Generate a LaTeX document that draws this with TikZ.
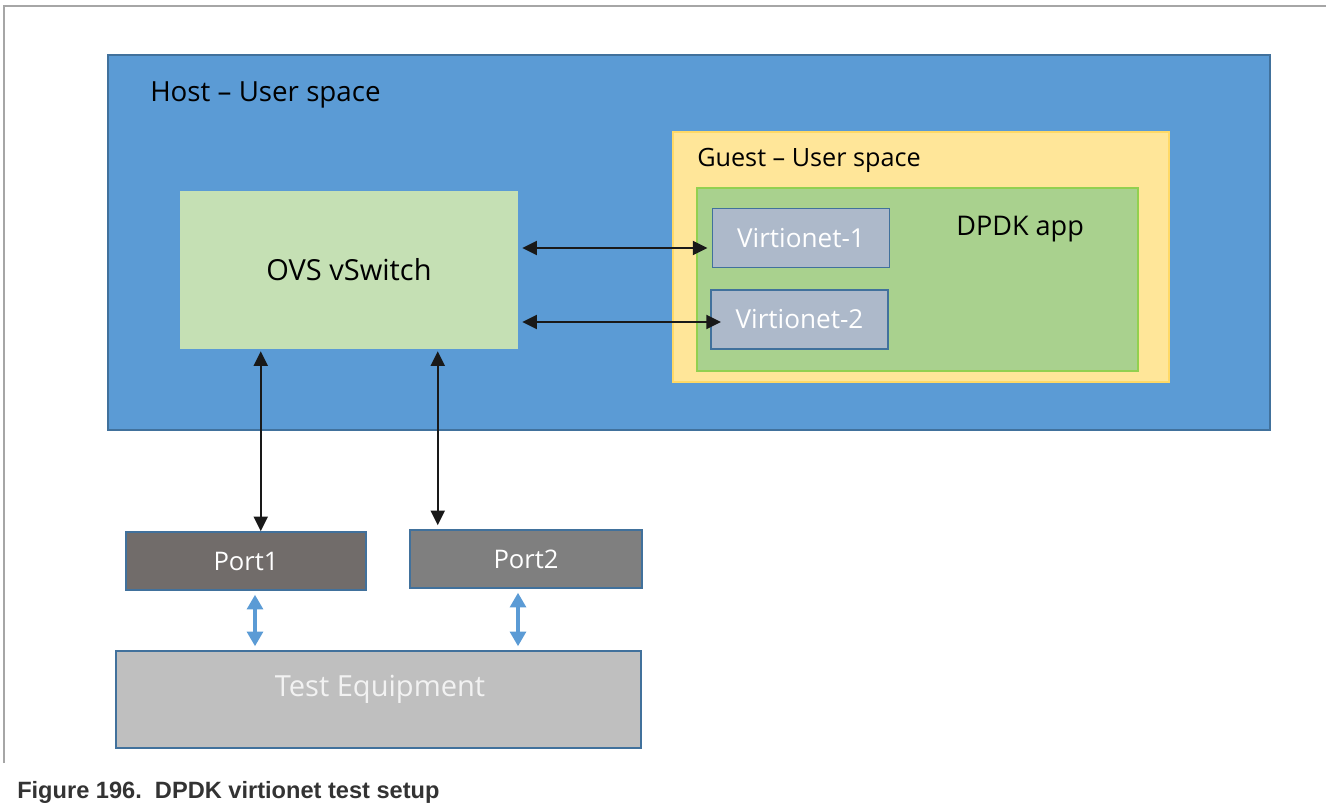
\documentclass[tikz,border=0pt]{standalone}
\usepackage{fontspec}
\setmainfont{Open Sans}
\newfontfamily\capfont{Liberation Sans}
\usetikzlibrary{arrows.meta,calc}

\definecolor{hostblue}{HTML}{5B9BD5}
\definecolor{boxedge}{HTML}{41719C}
\definecolor{guestyel}{HTML}{FFE699}
\definecolor{guestedge}{HTML}{FFD966}
\definecolor{appgreen}{HTML}{A9D18E}
\definecolor{appedge}{HTML}{92D050}
\definecolor{vswgreen}{HTML}{C5E0B4}
\definecolor{virtgrey}{HTML}{ADB9CA}
\definecolor{portone}{HTML}{716C6A}
\definecolor{porttwo}{HTML}{7F7F7F}
\definecolor{testgrey}{HTML}{BFBFBF}
\definecolor{framegrey}{HTML}{A6A6A6}
\definecolor{capgrey}{HTML}{333333}

\begin{document}
\begin{tikzpicture}[
    x=0.75pt, y=-0.75pt,
    >={Triangle[length=11pt,width=10.5pt]},
    box/.style={draw=boxedge, line width=1.2pt, inner sep=0pt},
    host/.style={box, fill=hostblue, minimum width=871.5pt, minimum height=281.25pt},
    guest/.style={draw=guestedge, line width=1.2pt, fill=guestyel, minimum width=372pt, minimum height=187.5pt},
    app/.style={draw=appedge, line width=1pt, fill=appgreen, minimum width=330.75pt, minimum height=137.25pt},
    vswitch/.style={fill=vswgreen, minimum width=253.5pt, minimum height=118.5pt, font=\fontsize{21.75}{24}\selectfont},
    virtio/.style={box, fill=virtgrey, minimum width=133pt, minimum height=44.5pt, text=white, font=\fontsize{19.6}{22}\selectfont},
    port/.style={box, minimum width=177pt, minimum height=43.5pt, text=white, font=\fontsize{19.2}{22}\selectfont},
    testeq/.style={box, fill=testgrey, minimum width=393.75pt, minimum height=72.75pt},
    lbl/.style={inner sep=0pt, anchor=base west},
    link/.style={<->, line width=1.5pt, black!90},
    wire/.style={{Triangle[length=11pt,width=12pt]}-{Triangle[length=11pt,width=12pt]}, line width=2.4pt, hostblue, shorten <=3pt, shorten >=3pt}
    ]

    \useasboundingbox (0,0) rectangle (1326,805);

    % Page frame
    \draw[framegrey, line width=1.2pt] (4,763) -- (4,6) -- (1326,6);

    % Host
    \node[host] (host) at (689,242.5) {};
    \node[lbl, font=\fontsize{20.8}{24}\selectfont] (hostlbl) at (150,102) {Host -- User space};

    % Guest and the DPDK application
    \node[guest] (guest) at (921,257) {};
    \node[lbl, font=\fontsize{18.9}{22}\selectfont] (guestlbl) at (697,167) {Guest -- User space};
    \node[app] (app) at (917.5,279.5) {};
    \node[lbl, font=\fontsize{20.3}{24}\selectfont] (applbl) at (956,236) {DPDK app};
    \node[virtio] (v1) at (801,238) {Virtionet-1};
    \node[virtio] (v2) at (799.5,319.5) {Virtionet-2};

    % Switch
    \node[vswitch] (ovs) at (349,270) {OVS vSwitch};

    % Ports
    \node[port, fill=portone, minimum width=180pt] (p1) at (246,561) {Port1};
    \node[port, fill=porttwo, minimum width=174pt] (p2) at (526,559) {Port2};

    % Test equipment
    \node[testeq] (te) at (378.5,699.5) {};
    \node[inner sep=0pt, text=white!95!black, font=\fontsize{21.8}{24}\selectfont] (telbl) at ($(te.center)+(1.5,-10)$) {Test Equipment};

    % Switch to virtio links
    \coordinate (h1) at ($(v1.west)+(0,10)$);
    \coordinate (h2) at ($(v2.west)+(11,2.5)$);
    \draw[link, shorten <=3pt, shorten >=3pt] (h1 -| ovs.east) -- (h1);
    \draw[link, shorten <=3pt] (h2 -| ovs.east) -- (h2);

    % Switch to ports
    \coordinate (d1) at ($(ovs.south west)+(81,0)$);
    \coordinate (d2) at ($(ovs.south west)+(258,0)$);
    \draw[link, shorten <=1.5pt] (d1) -- (d1 |- p1.north);
    \draw[link, shorten <=1.5pt, shorten >=3pt] (d2) -- (d2 |- p2.north);

    % Ports to test equipment
    \coordinate (e1) at ($(p1.south)+(9,0)$);
    \coordinate (e2) at ($(p2.south)+(-8,0)$);
    \draw[wire] (e1) -- (e1 |- te.north);
    \draw[wire] (e2) -- (e2 |- te.north);

    % Caption
    \node[lbl, text=capgrey, font=\capfont\bfseries\fontsize{17.7}{20}\selectfont] (cap) at (17,798) {Figure 196.\ \ DPDK virtionet test setup};

\end{tikzpicture}
\end{document}
